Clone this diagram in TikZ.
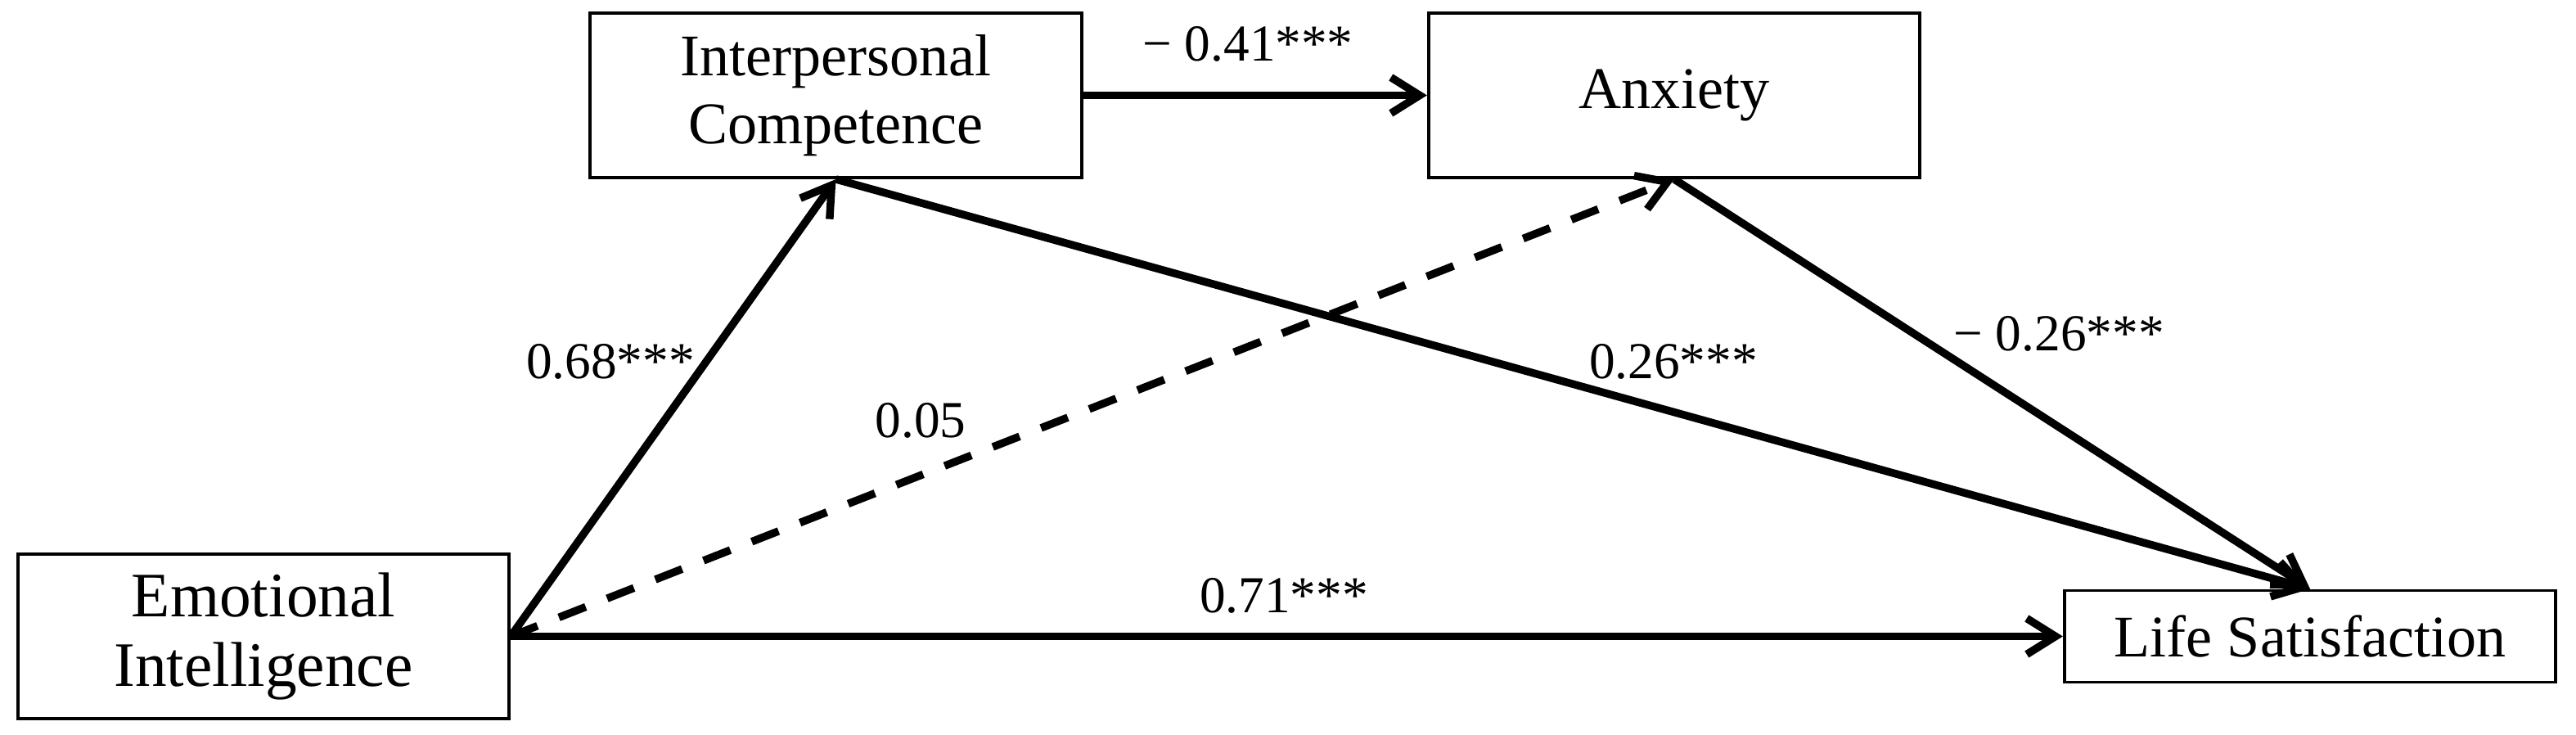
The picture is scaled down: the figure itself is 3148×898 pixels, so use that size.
\documentclass[tikz,border=0pt]{standalone}
\usepackage{fontspec}
\setmainfont{Liberation Serif}
\usetikzlibrary{arrows.meta}
\begin{document}
\begin{tikzpicture}[x=0.01cm,y=-0.01cm,
  box/.style={draw,line width=1.1pt,inner sep=0pt,minimum width=6cm,minimum height=2.01cm,align=center,font=\fontsize{20.5}{23.6}\selectfont},
  conn/.style={line width=2.7pt,-{Straight Barb[length=10pt,width=12.5pt]}},
  lab/.style={inner sep=0pt,font=\fontsize{18}{20}\selectfont}]
\useasboundingbox (0,0) rectangle (3148,898);
\node[box] (ic) at (1021.5,116.5) {Interpersonal\\Competence};
\node[box] (anx) at (2046,116.5) {Anxiety};
\node[box,font=\fontsize{22}{24.2}\selectfont] (ei) at (322,777.5) {Emotional\\Intelligence};
\node[box,minimum height=1.12cm] (ls) at (2823,777.5) {Life Satisfaction};

\draw[conn] (ic.east) -- (anx.west);
\draw[conn] (ei.east) -- (ic.south);
\draw[conn,dash pattern=on 10pt off 8pt] (ei.east) -- (anx.south);
\draw[conn] (ei.east) -- (ls.west);
\draw[conn] (ic.south) -- (ls.north);
\draw[conn] (anx.south) -- (ls.north);

\node[lab] (l041) at (1525,54) {− 0.41***};
\node[lab] (l068) at (746,442) {0.68***};
\node[lab] (l005) at (1125,514) {0.05};
\node[lab] (l026) at (2045,442) {0.26***};
\node[lab] (ln026) at (2516,408) {− 0.26***};
\node[lab] (l071) at (1569,728) {0.71***};
\end{tikzpicture}
\end{document}
